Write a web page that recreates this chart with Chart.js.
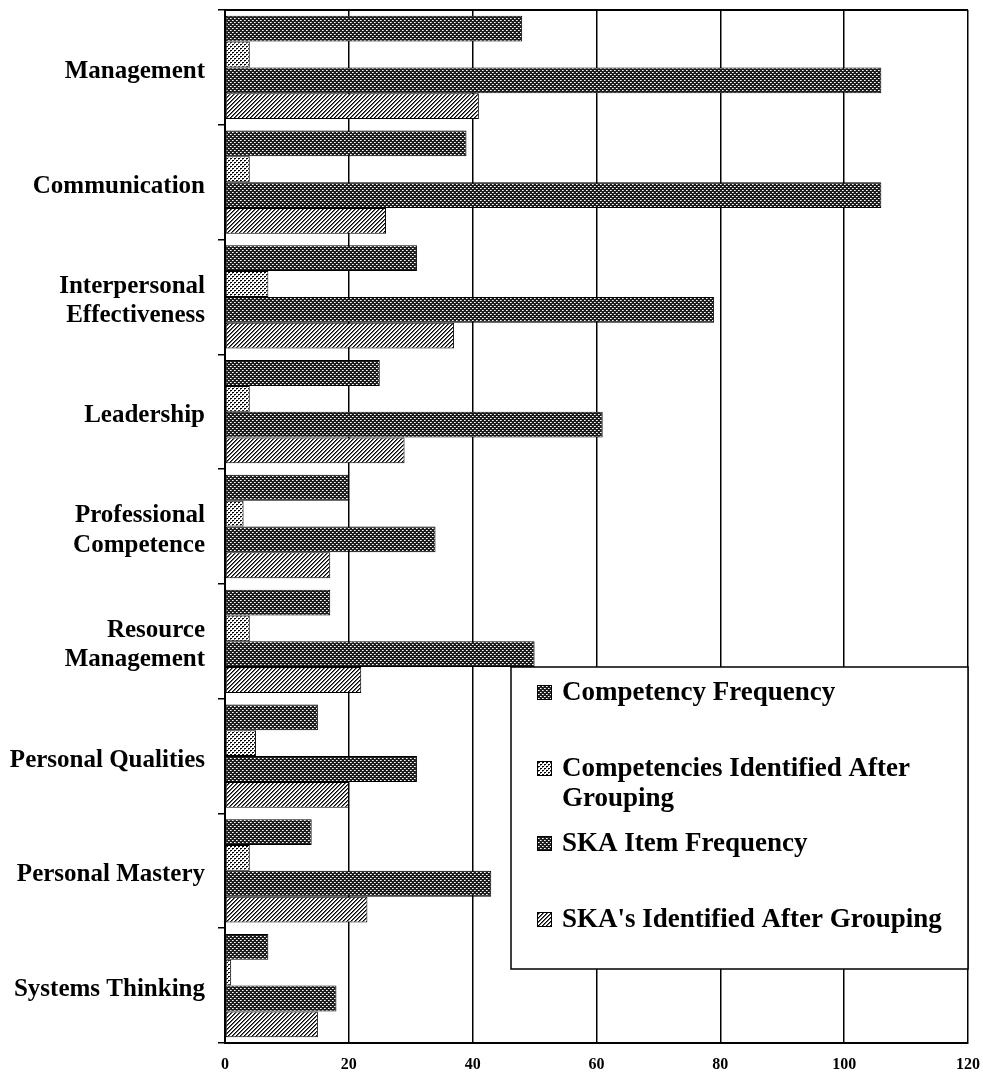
<!DOCTYPE html>
<html>
<head>
<meta charset="utf-8">
<script src="https://cdn.jsdelivr.net/npm/chart.js@4/dist/chart.umd.min.js"></script>
<style>
  html, body { margin: 0; padding: 0; background: #fff; }
  #wrap { position: relative; width: 983px; height: 1076px; }
</style>
</head>
<body>
<div id="wrap"><canvas id="chart"></canvas></div>
<script>
const categories = [
  "Management",
  "Communication",
  ["Interpersonal", "Effectiveness"],
  "Leadership",
  ["Professional", "Competence"],
  ["Resource", "Management"],
  "Personal Qualities",
  "Personal Mastery",
  "Systems Thinking"
];

const competencyFrequency = [48, 39, 31, 25, 20, 17, 15, 14, 7];
const competenciesAfterGrouping = [4, 4, 7, 4, 3, 4, 5, 4, 1];
const skaItemFrequency = [106, 106, 79, 61, 34, 50, 31, 43, 18];
const skaAfterGrouping = [41, 26, 37, 29, 17, 22, 20, 23, 15];

const seriesNames = [
  "Competency Frequency",
  ["Competencies Identified After", "Grouping"],
  "SKA Item Frequency",
  "SKA's Identified After Grouping"
];

const xTicks = [0, 20, 40, 60, 80, 100, 120];

// little tiles for the print-style fills
function makePattern(size, paint) {
  const c = document.createElement('canvas');
  c.width = size; c.height = size;
  const g = c.getContext('2d');
  paint(g);
  return g.createPattern(c, 'repeat');
}

function px(g, color, pts) {
  g.fillStyle = color;
  pts.forEach(p => g.fillRect(p[0], p[1], 1, 1));
}

const darkDots = makePattern(4, g => {
  g.fillStyle = '#1e1e1e';
  g.fillRect(0, 0, 4, 4);
  px(g, '#ffffff', [[0, 0], [2, 2]]);
  px(g, '#b0b0b0', [[1, 0], [3, 2]]);
});

const lightDots = makePattern(4, g => {
  g.fillStyle = '#ffffff';
  g.fillRect(0, 0, 4, 4);
  px(g, '#000000', [[0, 0], [1, 0], [2, 2], [3, 2]]);
  px(g, '#777777', [[0, 1], [2, 3]]);
});

const hatch = makePattern(4, g => {
  g.fillStyle = '#ffffff';
  g.fillRect(0, 0, 4, 4);
  for (let x = 0; x < 4; x++) {
    for (let y = 0; y < 4; y++) {
      const k = (x + y) % 4;
      if (k === 3) px(g, '#000', [[x, y]]);
      if (k === 0) px(g, '#666', [[x, y]]);
    }
  }
});

const fills = [darkDots, lightDots, darkDots, hatch];
const FONT = "'Liberation Serif', 'Times New Roman', serif";

// boxed legend inside the plot + top border line
const boxLegend = {
  id: 'boxLegend',
  afterDraw(chart) {
    const ctx = chart.ctx;
    const a = chart.chartArea;
    ctx.save();
    ctx.strokeStyle = '#000';
    ctx.lineWidth = 2;
    ctx.beginPath();
    ctx.moveTo(a.left, a.top);
    ctx.lineTo(a.right, a.top);
    ctx.stroke();

    const bx = 511, by = 667, bw = a.right - 511, bh = 302;
    ctx.fillStyle = '#fff';
    ctx.fillRect(bx, by, bw, bh);
    ctx.lineWidth = 1.5;
    ctx.strokeRect(bx, by, bw, bh);

    const rows = [
      { marker: 685, lines: [700] },
      { marker: 761, lines: [776, 806] },
      { marker: 836, lines: [851] },
      { marker: 912, lines: [927] }
    ];
    ctx.font = 'bold 27px ' + FONT;
    ctx.textBaseline = 'alphabetic';
    ctx.textAlign = 'left';
    rows.forEach((r, i) => {
      ctx.fillStyle = fills[i];
      ctx.fillRect(537, r.marker, 15, 15);
      ctx.lineWidth = 1;
      ctx.strokeStyle = '#000';
      ctx.strokeRect(537.5, r.marker + 0.5, 14, 14);
      const name = seriesNames[i];
      const parts = Array.isArray(name) ? name : [name];
      ctx.fillStyle = '#000';
      parts.forEach((t, j) => ctx.fillText(t, 562, r.lines[j]));
    });
    ctx.restore();
  }
};

const values = [competencyFrequency, competenciesAfterGrouping, skaItemFrequency, skaAfterGrouping];

new Chart(document.getElementById('chart'), {
  type: 'bar',
  data: {
    labels: categories,
    datasets: values.map((v, i) => ({
      label: Array.isArray(seriesNames[i]) ? seriesNames[i].join(' ') : seriesNames[i],
      data: v,
      backgroundColor: fills[i],
      borderColor: '#000',
      borderWidth: 1,
      borderSkipped: false,
      categoryPercentage: 0.9,
      barPercentage: 1.0
    }))
  },
  options: {
    indexAxis: 'y',
    responsive: true,
    maintainAspectRatio: false,
    animation: false,
    layout: { padding: { top: 10, right: 15, left: 0, bottom: 0 } },
    scales: {
      x: {
        min: 0,
        max: 120,
        afterBuildTicks(scale) { scale.ticks = xTicks.map(v => ({ value: v })); },
        afterFit(scale) {
          scale.height = 33;
          scale.paddingLeft = 0;
          scale.paddingRight = 0;
        },
        grid: { color: '#000', lineWidth: 1.5, drawTicks: false },
        border: { display: true, color: '#000', width: 2 },
        ticks: {
          padding: 12,
          color: '#000',
          font: { family: FONT, size: 16, weight: 'bold' }
        }
      },
      y: {
        afterFit(scale) {
          scale.width = 225;
          scale.paddingTop = 0;
          scale.paddingBottom = 0;
        },
        grid: {
          offset: true,
          drawOnChartArea: false,
          drawTicks: true,
          tickLength: 7,
          color: '#000',
          lineWidth: 1.5
        },
        border: { display: true, color: '#000', width: 2 },
        ticks: {
          padding: 13,
          labelOffset: 4,
          color: '#000',
          font: { family: FONT, size: 25, weight: 'bold', lineHeight: 1.17 }
        }
      }
    },
    plugins: {
      legend: { display: false },
      tooltip: { enabled: false }
    }
  },
  plugins: [boxLegend]
});
</script>
</body>
</html>
